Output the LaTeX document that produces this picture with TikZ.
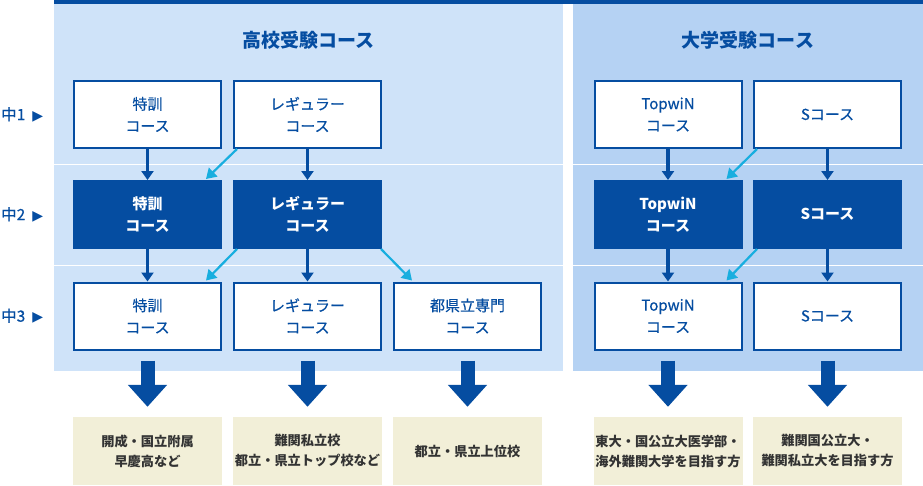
\documentclass[tikz,border=0pt]{standalone}
\usepackage{fontspec}
\setmainfont{Noto Sans CJK JP}
\newfontfamily\medfont[FakeBold=0.5]{Noto Sans CJK JP}
\newfontfamily\symfont{DejaVu Sans}
\usetikzlibrary{arrows.meta,calc}
\definecolor{navy}{HTML}{054DA1}
\definecolor{sky}{HTML}{18AEDF}
\definecolor{paleL}{HTML}{CFE3F9}
\definecolor{paleR}{HTML}{B5D2F3}
\definecolor{beige}{HTML}{F2EFD8}
\definecolor{ink}{HTML}{333333}
\tikzset{
    course/.style={rectangle,draw=navy,line width=2pt,fill=white,minimum width=147pt,minimum height=67pt,inner sep=0,align=center,text=navy,font=\medfont\fontsize{15}{22}\selectfont},
    dark/.style={course,fill=navy,text=white,font=\bfseries\fontsize{15}{22}\selectfont},
    goal/.style={rectangle,fill=beige,minimum width=149pt,minimum height=68pt,inner sep=0,align=center,text=ink,font=\bfseries\fontsize{13.2}{20}\selectfont},
    head/.style={text=navy,font=\bfseries\fontsize{19}{20}\selectfont},
    rowlab/.style={anchor=west,inner sep=0,text=navy,font=\medfont\fontsize{15.5}{16}\selectfont},
    next/.style={draw=navy,line width=3.5pt,-{Triangle[width=12pt,length=9pt]}},
    side/.style={draw=sky,line width=2.2pt,-{Triangle[width=12pt,length=10pt]}},
    big/.style={draw=navy,line width=14pt,-{Triangle[width=38pt,length=22pt]}}
}

\begin{document}
\begin{tikzpicture}[x=1pt,y=-1pt]
    \useasboundingbox (0,0) rectangle (923,485);
    \fill[paleL] (54,0) rectangle (563,371);
    \fill[paleR] (573,0) rectangle (923,371);
    \fill[navy] (54,0) rectangle (923,4);
    \draw[white,line width=1pt] (54,164.5) -- (923,164.5) (54,265.5) -- (923,265.5);

    \node[head] (hs) at (308.5,40) {高校受験コース};
    \node[head] (univ) at (748,40) {大学受験コース};

    \node[rowlab] (y1) at (1,114.5) {中1\hspace{7pt}{\symfont\fontsize{14}{14}\selectfont ▶}};
    \node[rowlab] (y2) at (1,214.5) {中2\hspace{7pt}{\symfont\fontsize{14}{14}\selectfont ▶}};
    \node[rowlab] (y3) at (1,316) {中3\hspace{7pt}{\symfont\fontsize{14}{14}\selectfont ▶}};

    \node[course] (a1) at (147.5,114.5) {特訓\\コース};
    \node[course] (b1) at (307.5,114.5) {レギュラー\\コース};
    \node[course] (d1) at (668,114.5) {TopwiN\\コース};
    \node[course] (e1) at (827.5,114.5) {Sコース};

    \node[dark] (a2) at (147.5,214.5) {特訓\\コース};
    \node[dark] (b2) at (307.5,214.5) {レギュラー\\コース};
    \node[dark] (d2) at (668,214.5) {TopwiN\\コース};
    \node[dark] (e2) at (827.5,214.5) {Sコース};

    \node[course] (a3) at (147.5,316) {特訓\\コース};
    \node[course] (b3) at (307.5,316) {レギュラー\\コース};
    \node[course] (c3) at (467.5,316) {都県立専門\\コース};
    \node[course] (d3) at (668,316) {TopwiN\\コース};
    \node[course] (e3) at (827.5,316) {Sコース};

    \node[goal] (ga) at (147.5,451) {開成・国立附属\\早慶高など};
    \node[goal] (gb) at (307.5,451) {難関私立校\\都立・県立トップ校など};
    \node[goal] (gc) at (467.5,451) {都立・県立上位校};
    \node[goal] (gd) at (668,451) {東大・国公立大医学部・\\海外難関大学を目指す方};
    \node[goal] (ge) at (827.5,451) {難関国公立大・\\難関私立大を目指す方};

    \foreach \c in {a,b,d,e}{
        \draw[next] (\c1.south) -- (\c2.north);
        \draw[next] (\c2.south) -- (\c3.north);
    }

    \draw[side] ($(b1.south west)+(4,0)$) -- ($(a2.north east)+(-16,-1)$);
    \draw[side] ($(b2.south west)+(4,0)$) -- ($(a3.north east)+(-16,-1)$);
    \draw[side] ($(b2.south east)+(-1,0)$) -- ($(c3.north west)+(19,-1)$);
    \draw[side] ($(e1.south west)+(4,0)$) -- ($(d2.north east)+(-16,-1)$);
    \draw[side] ($(e2.south west)+(4,0)$) -- ($(d3.north east)+(-16,-1)$);

    \foreach \c/\g in {a3/ga,b3/gb,c3/gc,d3/gd,e3/ge}
        \draw[big] ([yshift=-10pt]\c.south) -- ([yshift=10pt]\g.north);
\end{tikzpicture}
\end{document}
